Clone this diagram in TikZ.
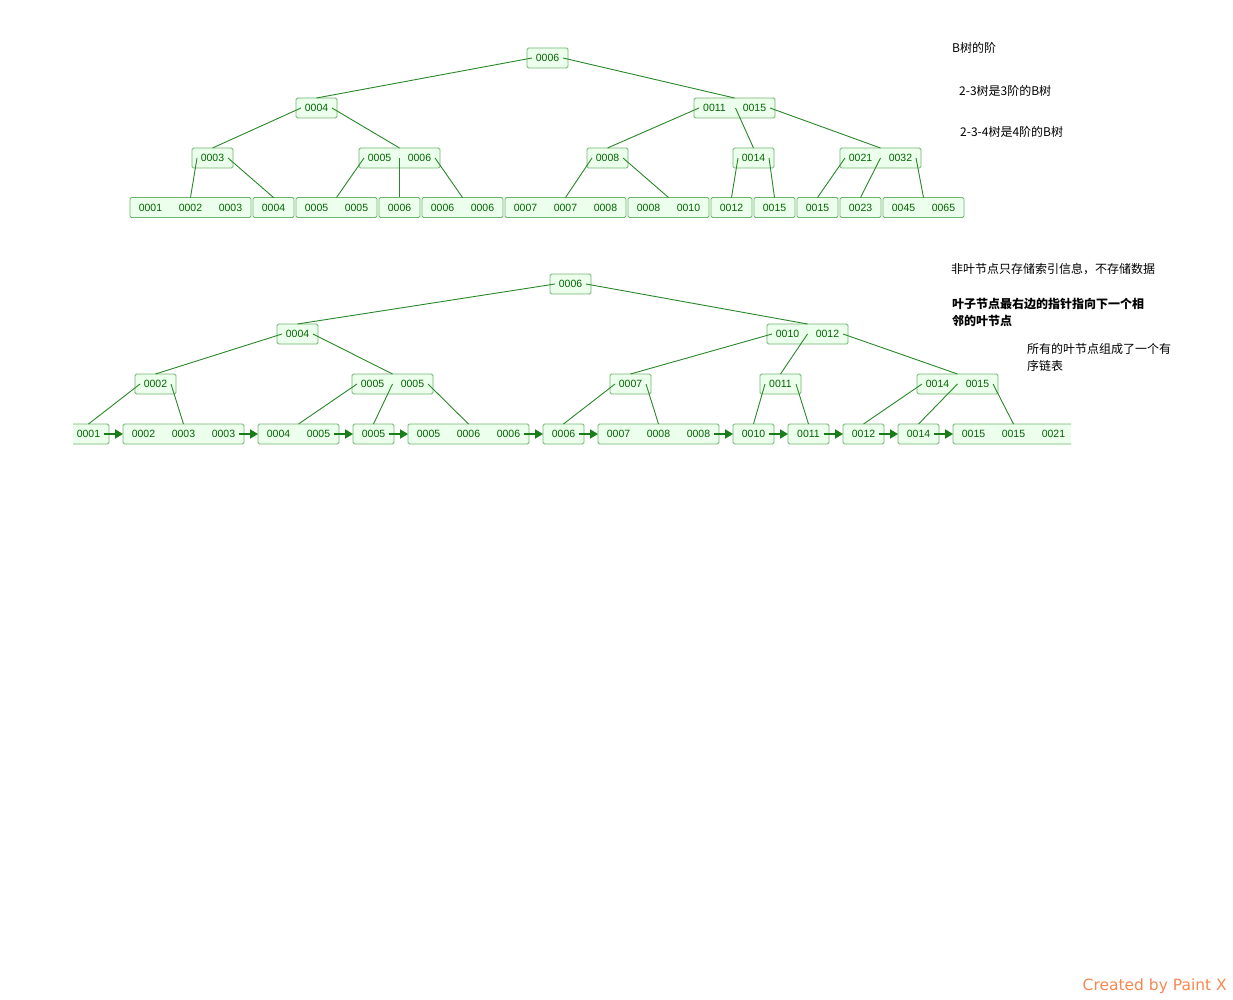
\documentclass[tikz,border=0pt]{standalone}
\usepackage{fontspec}
\setmainfont{Liberation Sans}
\newfontfamily\cjk{Noto Sans CJK SC}
\newfontfamily\dvs{DejaVu Sans}
\usepackage{tikz}
\usetikzlibrary{arrows.meta,positioning}
\definecolor{boxfill}{RGB}{236,255,236}
\definecolor{boxline}{RGB}{110,180,110}
\definecolor{keytext}{RGB}{0,100,0}
\definecolor{edgegreen}{RGB}{40,135,40}
\definecolor{arrgreen}{RGB}{25,125,25}
\definecolor{paintx}{RGB}{245,135,80}
\newcommand{\kb}[1]{\makebox[40pt]{#1}}
\tikzstyle{bn}=[draw=boxline, line width=0.8pt, fill=boxfill, rounded corners=1.5pt, inner xsep=0.5pt, inner ysep=0pt, outer sep=0pt, minimum height=20pt, text=keytext, font=\fontsize{10.5}{12}\selectfont]
\tikzstyle{ln}=[edgegreen, line width=0.9pt]
\tikzstyle{nx}=[arrgreen, line width=1.8pt, -{Triangle[length=8pt,width=9pt]}]
\tikzstyle{note}=[anchor=west, inner sep=0pt, align=left, font=\cjk\fontsize{12}{17}\selectfont]

\begin{document}
\begin{tikzpicture}
[x=1pt, y=-1pt, node distance=2pt]
\useasboundingbox (0,0) rectangle (1233,1000);
% B tree
\node[bn] (r) at (547.5,58) {\kb{0006}};
\node[bn] (a1) at (316.5,108) {\kb{0004}};
\node[bn] (a2) at (734.5,108) {\kb{0011}\kb{0015}};
\node[bn] (b1) at (212.5,158) {\kb{0003}};
\node[bn] (b2) at (399.5,158) {\kb{0005}\kb{0006}};
\node[bn] (b3) at (607.5,158) {\kb{0008}};
\node[bn] (b4) at (753.5,158) {\kb{0014}};
\node[bn] (b5) at (880.5,158) {\kb{0021}\kb{0032}};
\node[bn, anchor=west] (c1) at (130,207.5) {\kb{0001}\kb{0002}\kb{0003}};
\node[bn] (c2) [right=of c1] {\kb{0004}};
\node[bn] (c3) [right=of c2] {\kb{0005}\kb{0005}};
\node[bn] (c4) [right=of c3] {\kb{0006}};
\node[bn] (c5) [right=of c4] {\kb{0006}\kb{0006}};
\node[bn] (c6) [right=of c5] {\kb{0007}\kb{0007}\kb{0008}};
\node[bn] (c7) [right=of c6] {\kb{0008}\kb{0010}};
\node[bn] (c8) [right=of c7] {\kb{0012}};
\node[bn] (c9) [right=of c8] {\kb{0015}};
\node[bn] (c10) [right=of c9] {\kb{0015}};
\node[bn] (c11) [right=of c10] {\kb{0023}};
\node[bn] (c12) [right=of c11] {\kb{0045}\kb{0065}};
\path[ln]
   ([xshift=5pt]r.west) edge (a1.north)
   ([xshift=-5pt]r.east) edge (a2.north)
   ([xshift=5pt]a1.west) edge (b1.north)
   ([xshift=-5pt]a1.east) edge (b2.north)
   ([xshift=5pt]a2.west) edge (b3.north)
   ([xshift=1pt]a2.center) edge (b4.north)
   ([xshift=-5pt]a2.east) edge (b5.north)
   ([xshift=5pt]b1.west) edge (c1.north)
   ([xshift=-5pt]b1.east) edge (c2.north)
   ([xshift=5pt]b2.west) edge (c3.north)
   (b2.center) edge (c4.north)
   ([xshift=-5pt]b2.east) edge (c5.north)
   ([xshift=5pt]b3.west) edge (c6.north)
   ([xshift=-5pt]b3.east) edge (c7.north)
   ([xshift=5pt]b4.west) edge (c8.north)
   ([xshift=-5pt]b4.east) edge (c9.north)
   ([xshift=5pt]b5.west) edge (c10.north)
   (b5.center) edge (c11.north)
   ([xshift=-5pt]b5.east) edge (c12.north);

% B+ tree
\node[bn] (rr) at (570.5,284) {\kb{0006}};
\node[bn] (p1) at (297.5,334) {\kb{0004}};
\node[bn] (p2) at (807.5,334) {\kb{0010}\kb{0012}};
\node[bn] (q1) at (155.5,384) {\kb{0002}};
\node[bn] (q2) at (392.5,384) {\kb{0005}\kb{0005}};
\node[bn] (q3) at (630.5,384) {\kb{0007}};
\node[bn] (q4) at (780.5,384) {\kb{0011}};
\node[bn] (q5) at (957.5,384) {\kb{0014}\kb{0015}};
\begin{scope}[node distance=14pt]
\clip (73,420) rectangle (1071,450);
\node[bn, anchor=west] (l1) at (68,434) {\kb{0001}};
\node[bn] (l2) [right=of l1] {\kb{0002}\kb{0003}\kb{0003}};
\node[bn] (l3) [right=of l2] {\kb{0004}\kb{0005}};
\node[bn] (l4) [right=of l3] {\kb{0005}};
\node[bn] (l5) [right=of l4] {\kb{0005}\kb{0006}\kb{0006}};
\node[bn] (l6) [right=of l5] {\kb{0006}};
\node[bn] (l7) [right=of l6] {\kb{0007}\kb{0008}\kb{0008}};
\node[bn] (l8) [right=of l7] {\kb{0010}};
\node[bn] (l9) [right=of l8] {\kb{0011}};
\node[bn] (l10) [right=of l9] {\kb{0012}};
\node[bn] (l11) [right=of l10] {\kb{0014}};
\node[bn] (l12) [right=of l11] {\kb{0015}\kb{0015}\kb{0021}};
\end{scope}
\path[ln]
   ([xshift=5pt]rr.west) edge (p1.north)
   ([xshift=-5pt]rr.east) edge (p2.north)
   ([xshift=5pt]p1.west) edge (q1.north)
   ([xshift=-5pt]p1.east) edge (q2.north)
   ([xshift=5pt]p2.west) edge (q3.north)
   (p2.center) edge (q4.north)
   ([xshift=-5pt]p2.east) edge (q5.north)
   ([xshift=5pt]q1.west) edge (l1.north)
   ([xshift=-5pt]q1.east) edge (l2.north)
   ([xshift=5pt]q2.west) edge (l3.north)
   (q2.center) edge (l4.north)
   ([xshift=-5pt]q2.east) edge (l5.north)
   ([xshift=5pt]q3.west) edge (l6.north)
   ([xshift=-5pt]q3.east) edge (l7.north)
   ([xshift=5pt]q4.west) edge (l8.north)
   ([xshift=-5pt]q4.east) edge (l9.north)
   ([xshift=5pt]q5.west) edge (l10.north)
   (q5.center) edge (l11.north)
   ([xshift=-5pt]q5.east) edge (l12.north);
\path[nx]
   ([xshift=-5pt]l1.east) edge (l2.west)
   ([xshift=-5pt]l2.east) edge (l3.west)
   ([xshift=-5pt]l3.east) edge (l4.west)
   ([xshift=-5pt]l4.east) edge (l5.west)
   ([xshift=-5pt]l5.east) edge (l6.west)
   ([xshift=-5pt]l6.east) edge (l7.west)
   ([xshift=-5pt]l7.east) edge (l8.west)
   ([xshift=-5pt]l8.east) edge (l9.west)
   ([xshift=-5pt]l9.east) edge (l10.west)
   ([xshift=-5pt]l10.east) edge (l11.west)
   ([xshift=-5pt]l11.east) edge (l12.west);

% notes
\node[note] (n1) at (952,48) {B树的阶};
\node[note] (n2) at (959,91) {2-3树是3阶的B树};
\node[note] (n3) at (960,132) {2-3-4树是4阶的B树};
\node[note] (n4) at (951,269) {非叶节点只存储索引信息，不存储数据};
\node[note, font=\cjk\bfseries\fontsize{12}{17}\selectfont] (n5) at (952,312.5) {叶子节点最右边的指针指向下一个相\\邻的叶节点};
\node[note] (n6) at (1027,357.5) {所有的叶节点组成了一个有\\序链表};
\node[anchor=east, inner sep=0pt, text=paintx, font=\dvs\fontsize{15.5}{18}\selectfont] (px) at (1227,986) {Created by Paint X};
\end{tikzpicture}
\end{document}
